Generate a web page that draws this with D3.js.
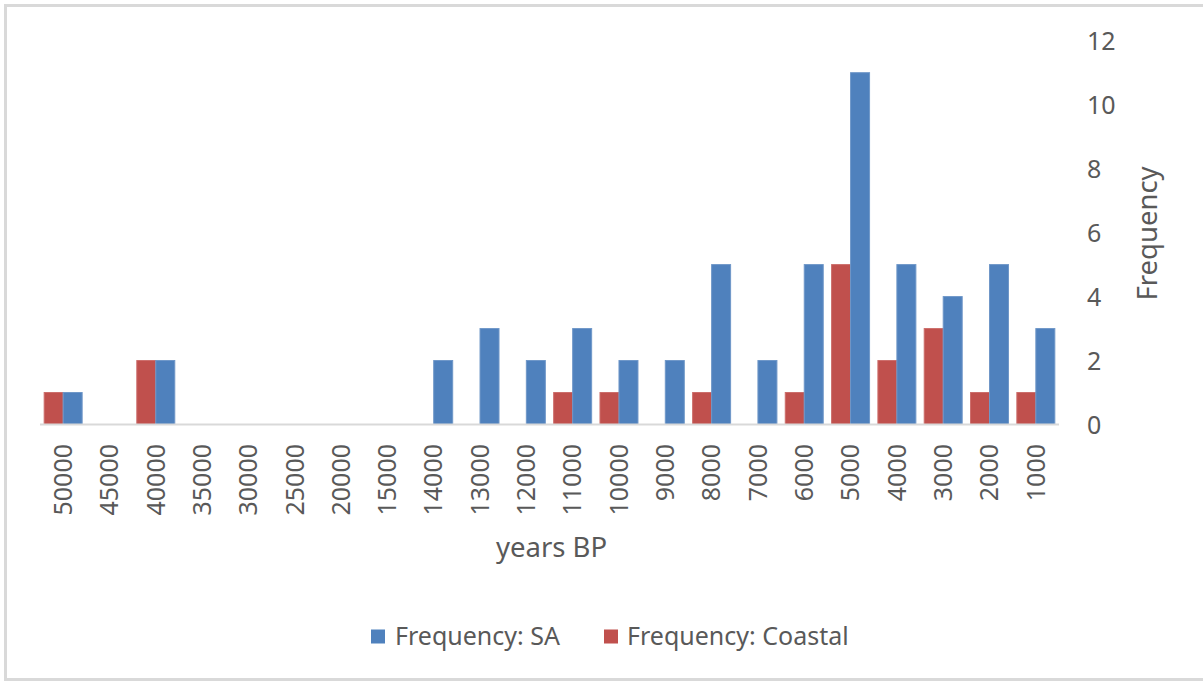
<!DOCTYPE html>
<html>
<head>
<meta charset="utf-8">
<script src="https://cdn.jsdelivr.net/npm/d3@7"></script>
<style>
  html, body { margin: 0; padding: 0; background: #ffffff; }
  svg { display: block; }
  text { font-family: "Noto Sans", sans-serif; fill: #595959; }
</style>
</head>
<body>
<svg id="chart" width="1203" height="682"></svg>
<script>
// Age classes (years BP), oldest on the left
const categories = ["50000","45000","40000","35000","30000","25000","20000","15000",
  "14000","13000","12000","11000","10000","9000","8000","7000","6000","5000",
  "4000","3000","2000","1000"];

// Counts per age class
const freqSA      = [1,0,2,0,0,0,0,0,2,3,2,3,2,2,5,2,5,11,5,4,5,3];
const freqCoastal = [1,0,2,0,0,0,0,0,0,0,0,1,1,0,1,0,1,5,2,3,1,1];

const yTicks = [0,2,4,6,8,10,12];

const seriesNames = ["Frequency: SA", "Frequency: Coastal"];
const seriesColors = { "Frequency: SA": "#4F81BD", "Frequency: Coastal": "#C0504D" };
const seriesStroke = { "Frequency: SA": "#6f97c8", "Frequency: Coastal": "#cc6e6b" };

const rows = categories.map((c, i) => ({
  cat: c,
  "Frequency: SA": freqSA[i],
  "Frequency: Coastal": freqCoastal[i]
}));

const svg = d3.select("#chart");

// chart frame
svg.append("rect")
  .attr("x", 5.5).attr("y", 5.5)
  .attr("width", 1205).attr("height", 674)
  .attr("fill", "none")
  .attr("stroke", "#d9d9d9")
  .attr("stroke-width", 3);

const plot = { left: 40, right: 1059, top: 40.7, bottom: 424.5 };

const x = d3.scaleBand()
  .domain(categories)
  .range([plot.left, plot.right])
  .paddingInner(0.18)
  .paddingOuter(0.09);

// Coastal sits left of SA within each group
const xSub = d3.scaleBand()
  .domain(["Frequency: Coastal", "Frequency: SA"])
  .range([0, x.bandwidth()]);

const y = d3.scaleLinear()
  .domain([0, 12])
  .range([plot.bottom, plot.top]);

// bars
const groups = svg.append("g").selectAll("g")
  .data(rows)
  .join("g")
  .attr("transform", d => `translate(${x(d.cat)},0)`);

groups.selectAll("rect")
  .data(d => ["Frequency: Coastal", "Frequency: SA"].map(k => ({ key: k, value: d[k] })))
  .join("rect")
  .filter(d => d.value > 0)
  .attr("x", d => xSub(d.key))
  .attr("width", xSub.bandwidth())
  .attr("y", d => y(d.value))
  .attr("height", d => y(0) - y(d.value))
  .attr("fill", d => seriesColors[d.key])
  .attr("stroke", d => seriesStroke[d.key])
  .attr("stroke-width", 1);

// category axis line
svg.append("line")
  .attr("x1", plot.left).attr("x2", plot.right)
  .attr("y1", y(0)).attr("y2", y(0))
  .attr("stroke", "#d9d9d9")
  .attr("stroke-width", 2);

// category tick labels (rotated)
const xAxis = d3.axisBottom(x).tickSize(0).tickPadding(0);
const xg = svg.append("g")
  .attr("transform", `translate(0,${y(0)})`)
  .call(xAxis);
xg.select(".domain").remove();
xg.selectAll("text")
  .attr("transform", "rotate(-90)")
  .attr("x", -19.5)
  .attr("y", 0)
  .attr("dy", "0.35em")
  .attr("text-anchor", "end")
  .style("font-family", "'Noto Sans', sans-serif")
  .style("font-size", "25px")
  .style("fill", "#595959");

// value axis on the right
const yAxis = d3.axisRight(y).tickValues(yTicks).tickSize(0).tickPadding(0);
const yg = svg.append("g")
  .attr("transform", `translate(1087,0)`)
  .call(yAxis);
yg.select(".domain").remove();
yg.selectAll("text")
  .attr("x", 0)
  .attr("dy", "0.35em")
  .attr("text-anchor", "start")
  .style("font-family", "'Noto Sans', sans-serif")
  .style("font-size", "25px")
  .style("fill", "#595959");

// axis titles
svg.append("text")
  .attr("x", 551.5).attr("y", 557)
  .attr("text-anchor", "middle")
  .style("font-size", "27.5px")
  .text("years BP");

svg.append("text")
  .attr("transform", "translate(1157,233.5) rotate(-90)")
  .attr("text-anchor", "middle")
  .style("font-size", "27.5px")
  .text("Frequency");

// legend
const legendItems = [
  { name: "Frequency: SA", sx: 371, tx: 395 },
  { name: "Frequency: Coastal", sx: 604, tx: 627 }
];
const lg = svg.append("g").selectAll("g")
  .data(legendItems)
  .join("g");
lg.append("rect")
  .attr("x", d => d.sx).attr("y", 629.5)
  .attr("width", 14).attr("height", 14)
  .attr("fill", d => seriesColors[d.name]);
lg.append("text")
  .attr("x", d => d.tx).attr("y", 645)
  .style("font-size", "25px")
  .text(d => d.name);
</script>
</body>
</html>
